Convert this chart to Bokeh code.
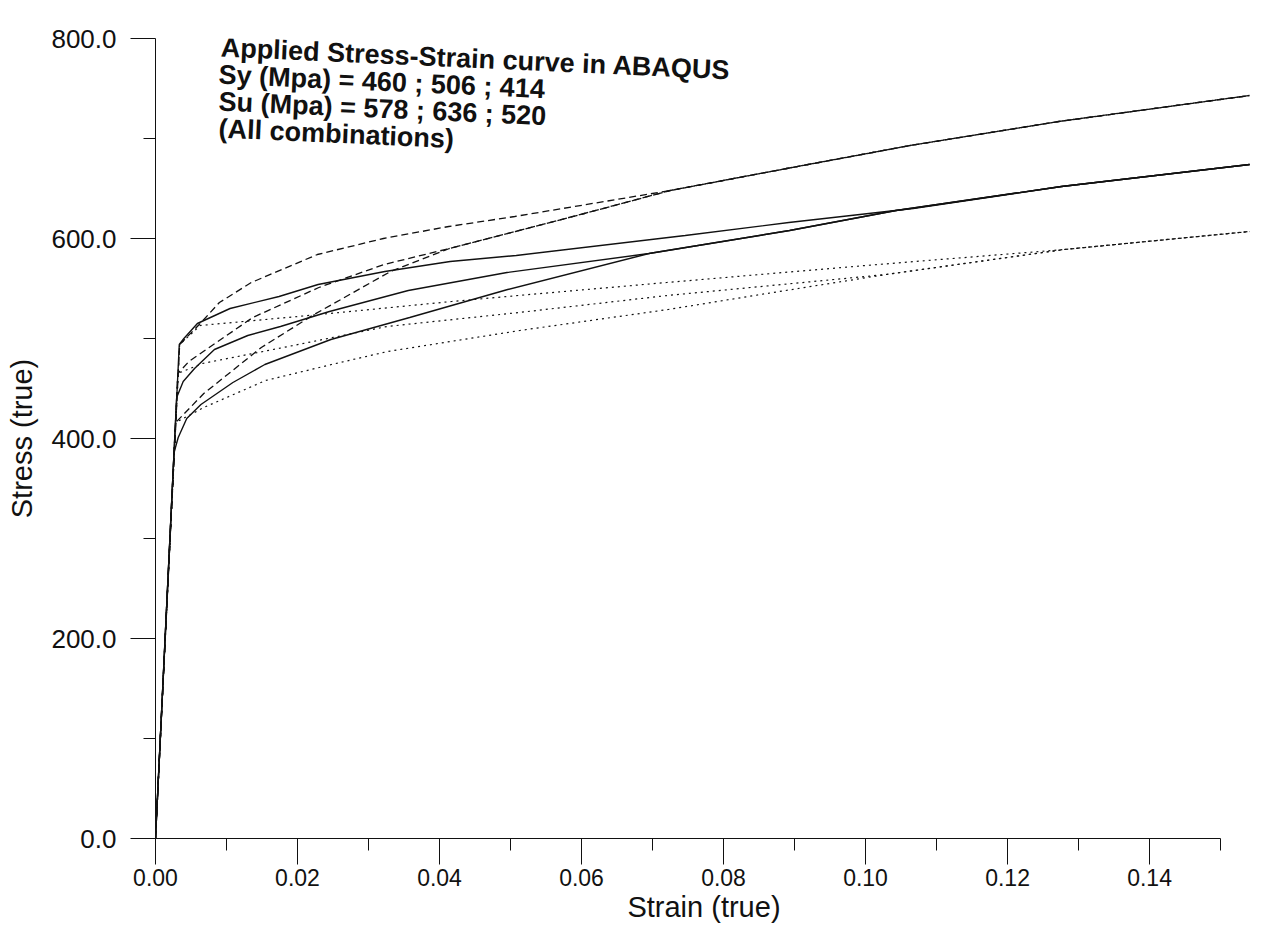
from bokeh.plotting import figure
from bokeh.models import Label, FixedTicker, NumeralTickFormatter, Range1d
from bokeh.embed import file_html
from bokeh.resources import INLINE

# ---- data (true strain, true stress in MPa) ----
# Su = 636 MPa family (dashed)
d506_e = [0, 0.00340, 0.0063, 0.0090, 0.0135, 0.0228, 0.0321, 0.0413, 0.0506, 0.0725, 0.0889, 0.1063, 0.1272, 0.1541]
d506_s = [0, 494, 515, 536, 556, 584, 600, 612, 622, 648, 670, 693, 717, 743]
d460_e = [0, 0.00315, 0.0047, 0.0137, 0.0230, 0.0322, 0.0414, 0.0507, 0.0604, 0.0725, 0.0889, 0.1063, 0.1272, 0.1541]
d460_s = [0, 465, 477, 521, 551, 574, 590, 607, 625, 648, 670, 693, 717, 743]
d414_e = [0, 0.00285, 0.0068, 0.0149, 0.0221, 0.0331, 0.0414, 0.0507, 0.0604, 0.0725, 0.0889, 0.1063, 0.1272, 0.1541]
d414_s = [0, 416, 445, 491, 523, 567, 590, 607, 625, 648, 670, 693, 717, 743]

# Su = 578 MPa family (solid)
s506_e = [0, 0.00335, 0.0040, 0.0059, 0.0105, 0.0174, 0.0229, 0.0323, 0.0415, 0.0508, 0.0746, 0.0892, 0.1067, 0.1276, 0.1541]
s506_s = [0, 494, 500, 515, 530, 542, 554, 567, 577, 583, 603, 616, 630, 652, 674]
s460_e = [0, 0.00298, 0.0039, 0.0055, 0.0083, 0.0130, 0.0176, 0.0245, 0.0356, 0.0495, 0.0695, 0.0893, 0.1043, 0.1276, 0.1541]
s460_s = [0, 441, 457, 470, 489, 503, 512, 527, 548, 566, 585, 608, 628, 652, 674]
s414_e = [0, 0.00261, 0.0032, 0.0044, 0.0064, 0.0109, 0.0154, 0.0247, 0.0358, 0.0496, 0.0695, 0.0893, 0.1043, 0.1276, 0.1541]
s414_s = [0, 386, 401, 420, 434, 456, 474, 499, 521, 549, 585, 608, 628, 652, 674]

# Su = 520 MPa family (dotted)
t506_e = [0, 0.00340, 0.0063, 0.0231, 0.0417, 0.0511, 0.0720, 0.1000, 0.1280, 0.1541]
t506_s = [0, 494, 513, 524, 537, 543, 556, 573, 589, 607]
t460_e = [0, 0.00315, 0.0066, 0.0187, 0.0326, 0.0512, 0.0721, 0.1029, 0.1280, 0.1541]
t460_s = [0, 465, 475, 492, 512, 526, 543, 564, 589, 607]
t414_e = [0, 0.00285, 0.0068, 0.0155, 0.0248, 0.0327, 0.0513, 0.0722, 0.0861, 0.1029, 0.1280, 0.1541]
t414_s = [0, 416, 431, 458, 474, 487, 508, 529, 545, 564, 589, 607]

x_major = [0.00, 0.02, 0.04, 0.06, 0.08, 0.10, 0.12, 0.14]
x_minor = [0.01, 0.03, 0.05, 0.07, 0.09, 0.11, 0.13, 0.15]
y_major = [0, 200, 400, 600, 800]
y_minor = [100, 300, 500, 700]

title_lines = [
    "Applied Stress-Strain curve in ABAQUS",
    "Sy (Mpa) = 460 ; 506 ; 414",
    "Su (Mpa) = 578 ; 636 ; 520",
    "(All combinations)",
]

p = figure(width=1260, height=936, x_range=Range1d(0, 0.1545), y_range=Range1d(0, 800),
           output_backend="svg", toolbar_location=None,
           min_border_left=155, min_border_right=8, min_border_top=38, min_border_bottom=98)
p.outline_line_color = None
p.grid.visible = False
p.background_fill_color = "white"

FONT = "Liberation Sans"
INK = "#111111"

p.xaxis.ticker = FixedTicker(ticks=x_major, minor_ticks=x_minor)
p.xaxis.formatter = NumeralTickFormatter(format="0.00")
p.xaxis.bounds = (0, 0.15)
p.xaxis.major_tick_out = 26
p.xaxis.major_tick_in = 0
p.xaxis.minor_tick_out = 12
p.xaxis.minor_tick_in = 0
p.xaxis.major_label_standoff = 4
p.xaxis.major_label_text_font = FONT
p.xaxis.major_label_text_font_size = "23px"
p.xaxis.axis_label = "Strain (true)"
p.xaxis.axis_label_standoff = 2

p.yaxis.ticker = FixedTicker(ticks=y_major, minor_ticks=y_minor)
p.yaxis.formatter = NumeralTickFormatter(format="0.0")
p.yaxis.bounds = (0, 800)
p.yaxis.major_tick_out = 25
p.yaxis.major_tick_in = 0
p.yaxis.minor_tick_out = 12
p.yaxis.minor_tick_in = 0
p.yaxis.major_label_standoff = 14
p.yaxis.major_label_text_font = FONT
p.yaxis.major_label_text_font_size = "26px"
p.yaxis.axis_label = "Stress (true)"
p.yaxis.axis_label_standoff = 10

for ax in (p.xaxis, p.yaxis):
    ax.axis_line_color = INK
    ax.major_tick_line_color = INK
    ax.minor_tick_line_color = INK
    ax.major_label_text_color = INK
    ax.axis_label_text_font = FONT
    ax.axis_label_text_font_size = "29px"
    ax.axis_label_text_font_style = "normal"
    ax.axis_label_text_color = INK

# curves
for e, s in [(d506_e, d506_s), (d460_e, d460_s), (d414_e, d414_s)]:
    p.line(e, s, line_color=INK, line_width=1.3, line_dash="7 4")
for e, s in [(t506_e, t506_s), (t460_e, t460_s), (t414_e, t414_s)]:
    p.line(e, s, line_color=INK, line_width=1.2, line_dash="2 4")
for e, s in [(s506_e, s506_s), (s460_e, s460_s), (s414_e, s414_s)]:
    p.line(e, s, line_color=INK, line_width=1.4)

# title block (slightly tilted like the scan)
tilt = -0.0447
ys = [791, 764, 737, 710]
xs = [0.0092, 0.0089, 0.0089, 0.0089]
for t, xx, yy in zip(title_lines, xs, ys):
    p.add_layout(Label(x=xx, y=yy, text=t, angle=tilt, text_font=FONT, text_font_size="27px",
                       text_font_style="bold", text_color=INK, text_baseline="alphabetic",
                       text_align="left"))

open("out.html", "w").write(file_html(p, INLINE))
